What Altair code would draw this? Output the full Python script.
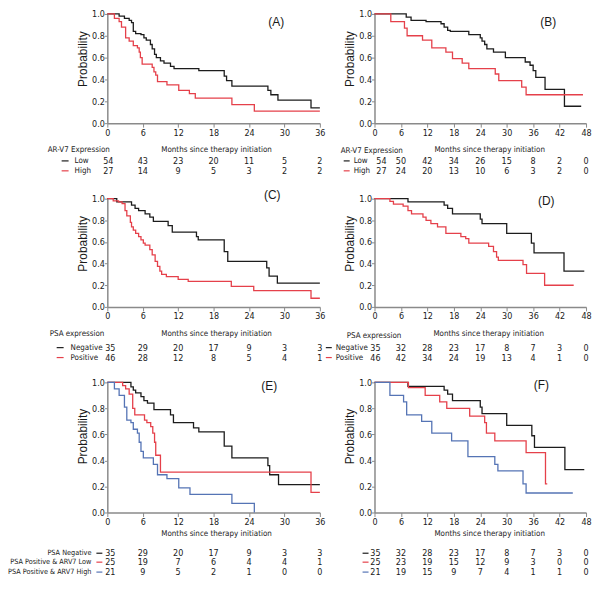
import altair as alt
import pandas as pd

# ---------------- data ----------------
TICKS_36 = [0, 6, 12, 18, 24, 30, 36]
TICKS_48 = [0, 6, 12, 18, 24, 30, 36, 42, 48]
PROB_TICKS = [0.0, 0.2, 0.4, 0.6, 0.8, 1.0]

# Panel A : AR-V7 expression (36 months)
A_LOW_T = [0, 2.0, 2.9, 3.7, 4.1, 4.4, 4.8, 5.7, 6.2, 6.6, 7.3, 7.6, 8.0, 8.3, 9.0, 9.6, 10.7, 11.3, 15.5, 19.8, 20.2, 21.1, 27.2, 27.7, 28.9, 34.5, 36.0]
A_LOW_S = [1.0, 0.98, 0.96, 0.94, 0.92, 0.84, 0.82, 0.81, 0.78, 0.76, 0.72, 0.68, 0.63, 0.60, 0.57, 0.55, 0.52, 0.50, 0.48, 0.43, 0.39, 0.34, 0.30, 0.26, 0.21, 0.14, 0.14]
A_HIGH_T = [0, 1.2, 2.0, 2.4, 3.1, 3.7, 4.4, 5.1, 5.4, 5.6, 5.9, 7.6, 7.9, 8.2, 8.5, 10.1, 12.1, 13.9, 14.9, 21.1, 24.9, 36.0]
A_HIGH_S = [1.0, 0.96, 0.93, 0.88, 0.78, 0.75, 0.71, 0.69, 0.65, 0.60, 0.54, 0.51, 0.47, 0.44, 0.38, 0.35, 0.30, 0.27, 0.23, 0.17, 0.11, 0.11]
A_RISK_LOW = [54, 43, 23, 20, 11, 5, 2]
A_RISK_HIGH = [27, 14, 9, 5, 3, 2, 2]

# Panel B : AR-V7 expression (48 months)
B_LOW_T = [0, 7.2, 8.3, 11.7, 15.1, 15.8, 16.6, 17.2, 21.4, 24.0, 24.4, 25.0, 25.5, 27.0, 29.7, 34.2, 35.3, 36.0, 36.6, 38.7, 43.1, 46.9]
B_LOW_S = [1.0, 0.97, 0.94, 0.93, 0.91, 0.88, 0.85, 0.84, 0.81, 0.78, 0.75, 0.72, 0.68, 0.65, 0.60, 0.56, 0.53, 0.48, 0.42, 0.31, 0.155, 0.155]
B_HIGH_T = [0, 3.7, 6.8, 7.4, 10.9, 13.0, 16.2, 17.7, 19.9, 21.4, 27.4, 28.2, 33.4, 34.4, 47.3]
B_HIGH_S = [1.0, 0.93, 0.87, 0.80, 0.76, 0.69, 0.65, 0.59, 0.55, 0.50, 0.45, 0.39, 0.33, 0.26, 0.26]
B_RISK_LOW = [54, 50, 42, 34, 26, 15, 8, 2, 0]
B_RISK_HIGH = [27, 24, 20, 13, 10, 6, 3, 2, 0]

# Panel C : PSA expression (36 months)
C_NEG_T = [0, 1.6, 4.1, 4.7, 5.3, 6.4, 7.2, 7.8, 10.3, 11.0, 15.1, 15.4, 19.8, 20.4, 27.0, 27.4, 28.8, 36.0]
C_NEG_S = [1.0, 0.97, 0.94, 0.91, 0.89, 0.86, 0.83, 0.79, 0.75, 0.69, 0.65, 0.62, 0.51, 0.42, 0.36, 0.285, 0.22, 0.22]
C_POS_T = [0, 1.0, 1.9, 2.5, 3.0, 3.3, 3.9, 4.1, 4.4, 4.8, 5.3, 5.7, 6.1, 6.4, 7.2, 7.6, 8.1, 8.5, 8.9, 9.2, 10.0, 12.0, 13.7, 21.0, 24.8, 34.5, 36.0]
C_POS_S = [1.0, 0.98, 0.97, 0.955, 0.89, 0.84, 0.78, 0.74, 0.71, 0.68, 0.65, 0.62, 0.59, 0.57, 0.53, 0.48, 0.42, 0.375, 0.33, 0.30, 0.28, 0.255, 0.235, 0.19, 0.15, 0.08, 0.08]
C_RISK_NEG = [35, 29, 20, 17, 9, 3, 3]
C_RISK_POS = [46, 28, 12, 8, 5, 4, 1]

# Panel D : PSA expression (48 months)
D_NEG_T = [0, 7.6, 15.8, 16.6, 17.7, 24.0, 24.4, 30.0, 35.6, 36.2, 43.0, 47.6]
D_NEG_S = [1.0, 0.97, 0.94, 0.91, 0.86, 0.81, 0.77, 0.68, 0.59, 0.50, 0.33, 0.33]
D_POS_T = [0, 3.5, 4.3, 6.5, 7.6, 8.4, 11.0, 11.7, 12.8, 14.3, 16.2, 19.6, 20.7, 21.4, 25.9, 27.0, 27.7, 28.1, 33.7, 34.5, 38.6, 45.2]
D_POS_S = [1.0, 0.975, 0.95, 0.93, 0.89, 0.86, 0.83, 0.80, 0.77, 0.74, 0.68, 0.65, 0.63, 0.59, 0.56, 0.51, 0.46, 0.43, 0.39, 0.31, 0.20, 0.20]
D_RISK_NEG = [35, 32, 28, 23, 17, 8, 7, 3, 0]
D_RISK_POS = [46, 42, 34, 24, 19, 13, 4, 1, 0]

# Panel E : three groups (36 months)
E_NEG_T = [0, 4.0, 4.4, 4.8, 5.7, 6.2, 6.8, 7.9, 10.7, 11.2, 14.6, 15.5, 19.8, 21.1, 27.2, 27.5, 29.0, 36.0]
E_NEG_S = [1.0, 0.965, 0.94, 0.92, 0.89, 0.86, 0.84, 0.79, 0.75, 0.69, 0.65, 0.62, 0.51, 0.42, 0.36, 0.29, 0.215, 0.215]
E_LOW_T = [0, 2.6, 3.1, 3.7, 4.3, 4.65, 6.3, 6.7, 7.35, 7.7, 8.0, 8.2, 9.0, 34.5, 36.0]
E_LOW_S = [1.0, 0.975, 0.95, 0.91, 0.80, 0.75, 0.71, 0.69, 0.66, 0.61, 0.54, 0.44, 0.31, 0.155, 0.155]
E_HIGH_T = [0, 1.2, 2.0, 2.9, 3.3, 4.0, 4.4, 5.1, 5.4, 5.7, 6.1, 7.8, 8.5, 10.1, 12.1, 14.0, 21.1, 24.9]
E_HIGH_S = [1.0, 0.95, 0.90, 0.81, 0.71, 0.69, 0.64, 0.61, 0.54, 0.47, 0.42, 0.37, 0.29, 0.26, 0.19, 0.14, 0.07, 0.0]
E_RISK_NEG = [35, 29, 20, 17, 9, 3, 3]
E_RISK_LOW = [25, 19, 7, 6, 4, 4, 1]
E_RISK_HIGH = [21, 9, 5, 2, 1, 0, 0]

# Panel F : three groups (48 months)
F_NEG_T = [0, 7.6, 15.8, 16.6, 17.7, 24.0, 24.4, 30.0, 35.7, 36.3, 43.2, 47.6]
F_NEG_S = [1.0, 0.97, 0.94, 0.91, 0.86, 0.81, 0.76, 0.67, 0.59, 0.50, 0.33, 0.33]
F_LOW_T = [0, 7.7, 11.5, 14.8, 16.4, 21.6, 25.0, 25.4, 27.3, 34.4, 38.8, 39.2]
F_LOW_S = [1.0, 0.96, 0.90, 0.85, 0.80, 0.74, 0.69, 0.61, 0.55, 0.46, 0.22, 0.22]
F_HIGH_T = [0, 3.5, 6.6, 7.3, 10.7, 13.0, 17.5, 21.2, 27.3, 28.0, 33.7, 34.4, 45.0]
F_HIGH_S = [1.0, 0.90, 0.85, 0.75, 0.70, 0.61, 0.55, 0.43, 0.37, 0.32, 0.22, 0.15, 0.15]
F_RISK_NEG = [35, 32, 28, 23, 17, 8, 7, 3, 0]
F_RISK_LOW = [25, 23, 19, 15, 12, 9, 3, 0, 0]
F_RISK_HIGH = [21, 19, 15, 9, 7, 4, 1, 1, 0]

# ---------------- style ----------------
BLACK = "#1c1c1c"
RED = "#e5404a"
BLUE = "#5574b5"
AXC = "#8a8a8a"
TXT = "#1a1a1a"
NARROW = "'Liberation Sans Narrow', 'Arial Narrow', 'DejaVu Sans Condensed', sans-serif"
REG = "'Liberation Sans', Arial, sans-serif"
MONTHS = "Months since therapy initiation"
LBL = 8  # risk-table label size


def x_channel(ticks):
    return alt.X(
        "month:Q",
        scale=alt.Scale(domain=[0, ticks[-1]], nice=False, zero=True),
        axis=alt.Axis(values=ticks, title=None, grid=False, labelFlush=False,
                      labelFont=NARROW, labelFontSize=9, labelColor=TXT,
                      labelPadding=1, tickSize=4, tickColor=AXC, tickWidth=1,
                      domainColor=AXC, domainWidth=1.5),
    )


def text_layer(txt, x, y, align="left", font=NARROW, size=LBL):
    return alt.Chart(pd.DataFrame({"t": [txt]})).mark_text(
        font=font, fontSize=size, color=TXT, align=align, baseline="middle"
    ).encode(x=alt.value(x), y=alt.value(y), text="t:N")


def count_layer(ticks, counts, yy, dx=0):
    return alt.Chart(pd.DataFrame({"month": ticks[: len(counts)], "n": counts})).mark_text(
        font=NARROW, fontSize=9, color=TXT, baseline="middle", dx=dx
    ).encode(x=x_channel(ticks), y=alt.value(yy), text="n:Q")


def panel(curves, ticks, w, h, texts, rows, first_dx=0, label_size=LBL):
    names = [c[0] for c in curves]
    colors = [c[1] for c in curves]
    frames = []
    for name, _, ts, ss in curves:
        frames.append(pd.DataFrame({"month": ts, "surv": ss, "group": name}))
    df = pd.concat(frames, ignore_index=True)
    lines = alt.Chart(df).mark_line(interpolate="step-after", strokeWidth=1.3).encode(
        x=x_channel(ticks),
        y=alt.Y("surv:Q", scale=alt.Scale(domain=[0, 1], nice=False),
                axis=alt.Axis(values=PROB_TICKS, format=".1f", title="Probability",
                              titleFont=REG, titleFontSize=12, titleFontWeight="normal",
                              titleColor=TXT, titlePadding=2, titleY=round(h * 0.41),
                              labelFont=NARROW, labelFontSize=9, labelColor=TXT,
                              labelPadding=0, tickSize=3, tickColor=AXC, tickWidth=1,
                              domainColor=AXC, domainWidth=1.5, grid=False)),
        color=alt.Color("group:N", scale=alt.Scale(domain=names, range=colors), legend=None),
    )
    layers = [lines]
    for t in texts:
        layers.append(text_layer(*t))
    for color, yy, dash, label, counts in rows:
        layers.append(
            alt.Chart(pd.DataFrame({"k": [0]})).mark_rule(color=color, strokeWidth=1.2).encode(
                x=alt.value(dash[0]), x2=alt.value(dash[1]), y=alt.value(yy))
        )
        if label is not None:
            layers.append(text_layer(label[0], label[1], yy, label[2], NARROW, label_size))
        layers.append(count_layer(ticks[:1], counts[:1], yy, first_dx))
        layers.append(count_layer(ticks[1:], counts[1:], yy))
    return alt.layer(*layers).properties(width=w, height=h)


hA, hC, hE = 110, 109, 131
wL, wR = 214, 213

pA = panel(
    [("Low", BLACK, A_LOW_T, A_LOW_S), ("High", RED, A_HIGH_T, A_HIGH_S)], TICKS_36, wL, hA,
    [("AR-V7 Expression", -60, hA + 27), (MONTHS, 110, hA + 27, "center"),
     ("(A)", 170, 8, "center", REG, 12)],
    [(BLACK, hA + 38, (-46, -39), ("Low", -33, "left"), A_RISK_LOW),
     (RED, hA + 48, (-46, -39), ("High", -33, "left"), A_RISK_HIGH)],
    first_dx=1,
)
pB = panel(
    [("Low", BLACK, B_LOW_T, B_LOW_S), ("High", RED, B_HIGH_T, B_HIGH_S)], TICKS_48, wR, hA,
    [("AR-V7 Expression", -34, hA + 28), (MONTHS, 116, hA + 27, "center"),
     ("(B)", 175, 8, "center", REG, 12)],
    [(BLACK, hA + 38, (-31, -25), ("Low", -21, "left"), B_RISK_LOW),
     (RED, hA + 48, (-31, -25), ("High", -21, "left"), B_RISK_HIGH)],
    first_dx=7,
)
pC = panel(
    [("Negative", BLACK, C_NEG_T, C_NEG_S), ("Positive", RED, C_POS_T, C_POS_S)], TICKS_36, wL, hC,
    [("PSA expression", -58, hC + 27), (MONTHS, 110, hC + 27, "center"),
     ("(C)", 166, -4, "center", REG, 12)],
    [(BLACK, hC + 41, (-51, -44), ("Negative", -37, "left"), C_RISK_NEG),
     (RED, hC + 51, (-51, -44), ("Positive", -37, "left"), C_RISK_POS)],
    first_dx=3,
)
pD = panel(
    [("Negative", BLACK, D_NEG_T, D_NEG_S), ("Positive", RED, D_POS_T, D_POS_S)], TICKS_48, wR, hC,
    [("PSA expression", -28, hC + 29), (MONTHS, 115, hC + 27, "center"),
     ("(D)", 173, 2, "center", REG, 12)],
    [(BLACK, hC + 41, (-49, -43), ("Negative", -39, "left"), D_RISK_NEG),
     (RED, hC + 51, (-49, -43), ("Positive", -39, "left"), D_RISK_POS)],
    first_dx=1,
)
pE = panel(
    [("PSA Negative", BLACK, E_NEG_T, E_NEG_S), ("PSA Positive & ARV7 Low", RED, E_LOW_T, E_LOW_S),
     ("PSA Positive & ARV7 High", BLUE, E_HIGH_T, E_HIGH_S)], TICKS_36, wL, hE,
    [(MONTHS, 110, hE + 22, "center"), ("(E)", 163, 4, "center", REG, 12)],
    [(BLACK, hE + 41, (-11, -5), ("PSA Negative", -16, "right"), E_RISK_NEG),
     (RED, hE + 50, (-11, -5), ("PSA Positive & ARV7 Low", -16, "right"), E_RISK_LOW),
     (BLUE, hE + 60, (-11, -5), ("PSA Positive & ARV7 High", -16, "right"), E_RISK_HIGH)],
    first_dx=3, label_size=7.3,
)
pF = panel(
    [("PSA Negative", BLACK, F_NEG_T, F_NEG_S), ("PSA Positive & ARV7 Low", RED, F_LOW_T, F_LOW_S),
     ("PSA Positive & ARV7 High", BLUE, F_HIGH_T, F_HIGH_S)], TICKS_48, wR, hE,
    [(MONTHS, 116, hE + 22, "center"), ("(F)", 168, 3, "center", REG, 12)],
    [(BLACK, hE + 41, (-12, -6), None, F_RISK_NEG),
     (RED, hE + 50, (-12, -6), None, F_RISK_LOW),
     (BLUE, hE + 60, (-12, -6), None, F_RISK_HIGH)],
    first_dx=1,
)

chart = alt.concat(
    pA, pB, pC, pD, pE, pF, columns=2, spacing={"row": 76, "column": 55}, bounds="flush"
).resolve_scale(color="independent").properties(padding=0).configure_view(stroke=None)

chart.save("out.html", embed_options={"renderer": "svg", "actions": False})
